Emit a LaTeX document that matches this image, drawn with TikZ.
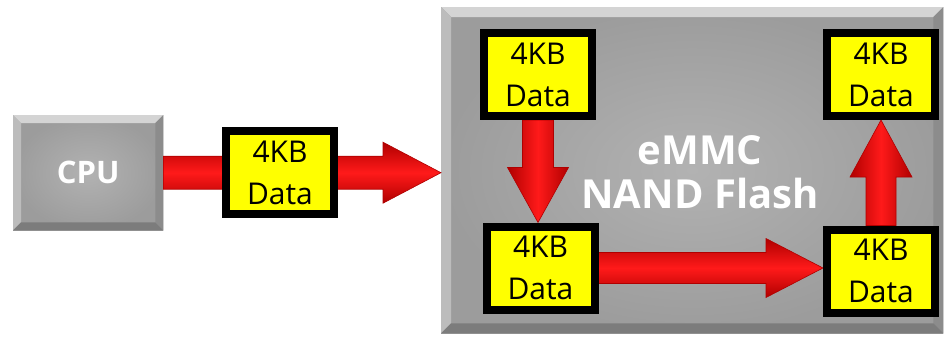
\documentclass[tikz,border=0pt]{standalone}
\usepackage{fontspec}
\setmainfont{Open Sans}
\usetikzlibrary{calc}

\pgfdeclarelayer{bg}
\pgfdeclarelayer{mid}
\pgfsetlayers{bg,mid,main}

\definecolor{bodyin}{HTML}{B2B2B2}
\definecolor{bodyout}{HTML}{9C9C9C}
\definecolor{bevtop}{HTML}{D4D4D4}
\definecolor{bevleft}{HTML}{BCBCBC}
\definecolor{bevright}{HTML}{8C8C8C}
\definecolor{bevbottom}{HTML}{7C7C7C}
\definecolor{arrowred}{HTML}{FF1A1A}
\definecolor{arrowdark}{HTML}{B00000}
\definecolor{datayellow}{HTML}{FFFF00}

\tikzset{
  graybox/.style={inner sep=0pt, anchor=north west, inner color=bodyin, outer color=bodyout},
  databox/.style={draw=black, line width=8pt, fill=datayellow, minimum width=108pt,
    minimum height=83pt, inner sep=0pt, align=center, text=black,
    font=\fontsize{30}{42}\selectfont},
  title/.style={text=white, font=\bfseries\fontsize{40}{44}\selectfont, align=center},
  harrowshade/.style={top color=arrowdark, bottom color=arrowdark, middle color=arrowred,
    draw=arrowdark, line width=0.6pt, line join=miter},
  varrowshade/.style={left color=arrowdark, right color=arrowdark, middle color=arrowred,
    draw=arrowdark, line width=0.6pt, line join=miter},
}

% bevelled frame around a rectangular node: #1 node name, #2 bevel depth
\newcommand\bevelframe[2]{%
  \fill[bevtop] (#1.north west) -- (#1.north east) -- ([shift={(-#2,#2)}]#1.north east)
    -- ([shift={(#2,#2)}]#1.north west) -- cycle;
  \fill[bevleft] (#1.north west) -- ([shift={(#2,#2)}]#1.north west)
    -- ([shift={(#2,-#2)}]#1.south west) -- (#1.south west) -- cycle;
  \fill[bevright] (#1.north east) -- ([shift={(-#2,#2)}]#1.north east)
    -- ([shift={(-#2,-#2)}]#1.south east) -- (#1.south east) -- cycle;
  \fill[bevbottom] (#1.south west) -- ([shift={(#2,-#2)}]#1.south west)
    -- ([shift={(-#2,-#2)}]#1.south east) -- (#1.south east) -- cycle;
}

% fat horizontal arrow: [opts] from, to, shaft half width, head half width, head length
\newcommand\fatharrow[6][]{%
  \path[harrowshade,#1] let \p1=(#2), \p2=(#3), \n2={\x2-sign(\x2-\x1)*#6} in
    (\x1,\y1+#4) -- (\n2,\y1+#4) -- (\n2,\y1+#5) -- (\x2,\y1)
    -- (\n2,\y1-#5) -- (\n2,\y1-#4) -- (\x1,\y1-#4) -- cycle;
}
% fat vertical arrow: [opts] from, to, shaft half width, head half width, head length
\newcommand\fatvarrow[6][]{%
  \path[varrowshade,#1] let \p1=(#2), \p2=(#3), \n2={\y2-sign(\y2-\y1)*#6} in
    (\x1+#4,\y1) -- (\x1+#4,\n2) -- (\x1+#5,\n2) -- (\x1,\y2)
    -- (\x1-#5,\n2) -- (\x1-#4,\n2) -- (\x1-#4,\y1) -- cycle;
}

\begin{document}
\begin{tikzpicture}[x=1pt,y=-1pt]
  \useasboundingbox (0,0) rectangle (949,338);

  % grey blocks
  \begin{pgfonlayer}{bg}
    \node[graybox, shading=radial, minimum width=150pt, minimum height=115pt] (cpu) at (13,115) {};
    \bevelframe{cpu}{8}
    \node[text=white, font=\bfseries\fontsize{31}{36}\selectfont] (cpulabel) at (cpu.center) {CPU};
    \node[graybox, shading=radial, minimum width=502pt, minimum height=326pt] (emmc) at (441,7) {};
    \bevelframe{emmc}{10}
  \end{pgfonlayer}

  \node[title] (emmclabel) at (700,172) {eMMC\\NAND Flash};

  % data blocks
  \node[databox] (d0) at (280,172.5) {4KB\\Data};
  \node[databox] (tl) at (538,74.5) {4KB\\Data};
  \node[databox] (bl) at (540.5,268) {4KB\\Data};
  \node[databox] (tr) at (881,74.5) {4KB\\Data};
  \node[databox] (br) at (881,271) {4KB\\Data};

  % data flow
  \begin{pgfonlayer}{mid}
    \fatharrow{cpu.east}{emmc.west}{16.5pt}{30.5pt}{58pt}
    \fatvarrow{tl.south}{bl.north}{15.5pt}{30.5pt}{55pt}
    \fatharrow{bl.east}{br.west}{15.5pt}{29.5pt}{57pt}
    \fatvarrow{br.north}{tr.south}{15pt}{31pt}{57pt}
  \end{pgfonlayer}
\end{tikzpicture}
\end{document}
